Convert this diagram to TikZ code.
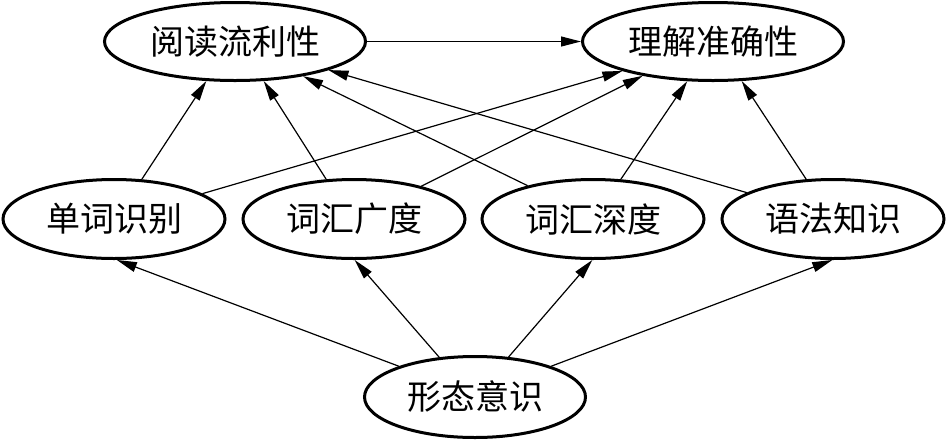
\documentclass[tikz,border=0pt]{standalone}
\usepackage{fontspec}
\newfontfamily\cjk{Noto Sans CJK SC}
\usetikzlibrary{shapes.geometric,arrows.meta}
\begin{document}
\begin{tikzpicture}[x=1pt,y=-1pt,
  ell/.style={ellipse,draw,line width=3pt,inner sep=0pt,font=\cjk\fontsize{34}{40}\selectfont},
  topell/.style={ell,minimum width=261pt,minimum height=78pt},
  midell/.style={ell,minimum width=222pt,minimum height=79pt},
  botell/.style={ell,minimum width=221pt,minimum height=81pt},
  conn/.style={line width=1.2pt,-{Triangle[length=20pt,width=10pt]}}]
\useasboundingbox (0,0) rectangle (947,440);
\node[topell] (A) at (235,41.5) {阅读流利性};
\node[topell] (B) at (713,41.5) {理解准确性};
\node[midell] (W) at (114,219) {单词识别};
\node[midell] (Br) at (354,219) {词汇广度};
\node[midell] (D) at (593,219) {词汇深度};
\node[midell] (G) at (833,219) {语法知识};
\node[botell] (M) at (475,397) {形态意识};
\draw[conn] (A.east) -- (B.west);
\draw[conn] (W.55) -- (A.234);
\draw[conn] (Br.125) -- (A.-54);
\draw[conn] (D.153) -- (A.-27);
\draw[conn] (G.163) -- (A.-17);
\draw[conn] (W.16) -- (B.198);
\draw[conn] (Br.26) -- (B.206);
\draw[conn] (D.55) -- (B.237);
\draw[conn] (G.124) -- (B.-54);
\draw[conn] (M.158) -- (W.-86);
\draw[conn] (M.132) -- (Br.-89);
\draw[conn] (M.50) -- (D.-91);
\draw[conn] (M.22) -- (G.-91);
\end{tikzpicture}
\end{document}
